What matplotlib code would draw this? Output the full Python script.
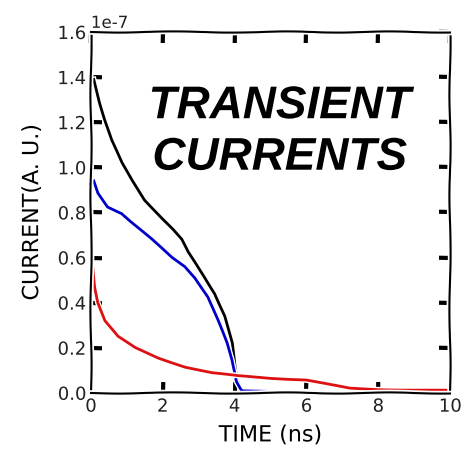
import numpy as np
import matplotlib
matplotlib.use('Agg')
import matplotlib.pyplot as plt

# transient current traces (values in units of 1e-7)
t_black = [0.08, 0.25, 0.39, 0.58, 0.86, 1.14, 1.5, 1.98, 2.29, 2.53, 2.70, 3.09, 3.45, 3.73,
           3.93, 4.01, 4.07, 4.2, 5, 6, 7, 8, 9, 10]
i_black = [1.39, 1.285, 1.21, 1.12, 1.02, 0.944, 0.855, 0.775, 0.725, 0.68, 0.625, 0.53, 0.44,
           0.34, 0.22, 0.115, 0.06, 0.01, 0.005, 0.004, 0.003, 0.002, 0.0, 0.0]

t_blue = [0.08, 0.2, 0.47, 0.86, 1.1, 1.70, 2.26, 2.62, 2.9, 3.26, 3.54, 3.79, 3.93, 4.01,
          4.06, 4.2, 5, 6, 7, 8]
i_blue = [0.94, 0.886, 0.825, 0.795, 0.76, 0.68, 0.60, 0.56, 0.51, 0.425, 0.32, 0.22, 0.146,
          0.09, 0.05, 0.01, 0.005, 0.003, 0.002, 0.0]

t_red = [0.05, 0.11, 0.2, 0.39, 0.75, 1.23, 1.87, 2.62, 3.37, 4.1, 5, 6, 6.7, 7.2, 8, 9, 10]
i_red = [0.56, 0.47, 0.40, 0.32, 0.25, 0.20, 0.155, 0.115, 0.089, 0.075, 0.065, 0.057,
         0.035, 0.02, 0.015, 0.012, 0.01]

scale = 1e-7

with plt.xkcd(scale=0.6, length=120, randomness=2):
    plt.rcParams['font.family'] = ['DejaVu Sans']
    fig = plt.figure(figsize=(4.66, 4.51), dpi=100)
    ax = fig.add_subplot(111)
    fig.subplots_adjust(left=0.195, right=0.966, bottom=0.129, top=0.929)

    for t, i, c in [(t_black, i_black, 'black'),
                    (t_blue, i_blue, '#0000cc'),
                    (t_red, i_red, '#dd1111')]:
        line, = ax.plot(t, np.array(i) * scale, color=c, lw=2)
        line.set_sketch_params(scale=0.3, length=120, randomness=2)

    ax.set_xlim(0, 10)
    ax.set_ylim(0, 1.6e-7)
    ax.set_xticks([0, 2, 4, 6, 8, 10])
    ax.set_yticks(np.arange(0, 1.61, 0.2) * scale)
    ax.tick_params(direction='in', top=True, right=True, labelsize=13, labelcolor='#222222')
    ax.yaxis.get_offset_text().set_fontsize(12)

    ax.set_xlabel('TIME (ns)', fontsize=16, labelpad=7)
    ax.set_ylabel('CURRENT(A. U.)', fontsize=16, labelpad=11)

    ax.text(0.526, 0.723, 'TRANSIENT\nCURRENTS', transform=ax.transAxes,
            ha='center', va='center', fontsize=33, fontweight='bold',
            fontstyle='italic', family='Liberation Sans', linespacing=1.22)

    fig.savefig('out.png', dpi=100)
